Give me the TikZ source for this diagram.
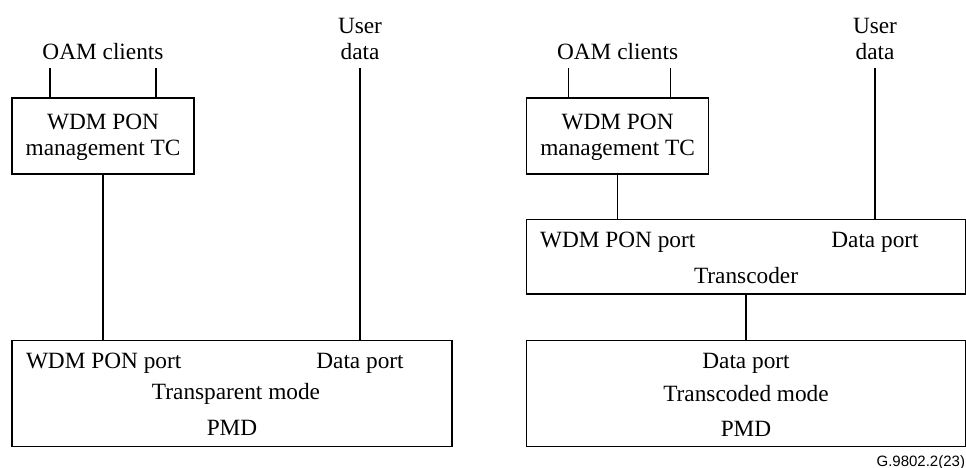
\documentclass[tikz,border=0pt]{standalone}
\usepackage{fontspec}
\setmainfont{Liberation Serif}
\newfontfamily\figsans{Liberation Sans}
\begin{document}
\begin{tikzpicture}[x=1pt,y=-1pt,
  every node/.style={inner sep=0pt, outer sep=0pt, font=\fontsize{23.3}{26}\selectfont},
  box/.style={draw, rectangle, line width=1.2pt},
  link/.style={line width=1.2pt},
  txt/.style={anchor=base, align=center},
  txtw/.style={anchor=base west},
]
\useasboundingbox (0,0) rectangle (966,468);

% ---------------- transparent mode stack ----------------
% (multi-line labels are placed by the baseline of their last line)
\node[box, minimum width=182pt, minimum height=76pt] (mgmtL) at (103,136) {};
\node[txt] (mgmtLt) at (103,156) {WDM PON\\management TC};

\node[box, minimum width=440pt, minimum height=105.6pt] (pmdL) at (232,393.5) {};
\node[txtw] (pmdLport) at (26,368) {WDM PON port};
\node[txt] (pmdLdata) at (360,368) {Data port};
\node[txt] (pmdLmode) at (236,399) {Transparent mode};
\node[txt] (pmdLpmd) at (232,435) {PMD};

\node[txt] (oamL) at (103,60) {OAM clients};
\node[txt] (userL) at (360,60) {User\\data};
\coordinate (oamL1) at (50,68);
\coordinate (oamL2) at (156,68);
\coordinate (udL) at (360,68);

\draw[link] (oamL1) -- (oamL1 |- mgmtL.north);
\draw[link] (oamL2) -- (oamL2 |- mgmtL.north);
\draw[link] (mgmtL.south) -- (mgmtL.south |- pmdL.north);
\draw[link] (udL) -- (udL |- pmdL.north);

% ---------------- transcoded mode stack ----------------
\node[box, minimum width=182pt, minimum height=76pt] (mgmtR) at (617.6,136) {};
\node[txt] (mgmtRt) at (617.6,156) {WDM PON\\management TC};

\node[box, minimum width=439pt, minimum height=74.5pt] (tcR) at (746,256.75) {};
\node[txtw] (tcRport) at (540,247) {WDM PON port};
\node[txt] (tcRdata) at (875,247) {Data port};
\node[txt] (tcRname) at (746,283) {Transcoder};

\node[box, minimum width=439pt, minimum height=105.6pt] (pmdR) at (746,393.5) {};
\node[txt] (pmdRdata) at (746,368) {Data port};
\node[txt] (pmdRmode) at (746,401) {Transcoded mode};
\node[txt] (pmdRpmd) at (746,436) {PMD};

\node[txt] (oamR) at (617.6,60) {OAM clients};
\node[txt] (userR) at (875,60) {User\\data};
\coordinate (oamR1) at (568.7,68);
\coordinate (oamR2) at (670.7,68);
\coordinate (udR) at (875,68);

\draw[link] (oamR1) -- (oamR1 |- mgmtR.north);
\draw[link] (oamR2) -- (oamR2 |- mgmtR.north);
\draw[link] (mgmtR.south) -- (mgmtR.south |- tcR.north);
\draw[link] (udR) -- (udR |- tcR.north);
\draw[link] (tcR.south) -- (pmdR.north);

% figure tag
\node[anchor=base east, font=\figsans\fontsize{15}{18}\selectfont] (tag) at (965,466) {G.9802.2(23)};
\end{tikzpicture}
\end{document}
